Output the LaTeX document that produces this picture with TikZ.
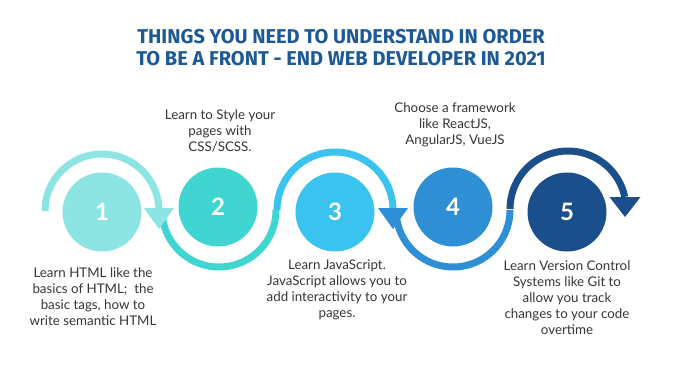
\documentclass[tikz,border=0pt]{standalone}
\usepackage{fontspec}
\usetikzlibrary{calc}
\setmainfont{Lato}
\newfontfamily\titlefont{Fira Sans}
\definecolor{cA}{HTML}{8DE5E3}
\definecolor{cB}{HTML}{41D5D1}
\definecolor{cC}{HTML}{3BC3EF}
\definecolor{cD}{HTML}{2F8FD5}
\definecolor{cE}{HTML}{1B4F8C}
\definecolor{titleblue}{HTML}{1D5A95}
\definecolor{txt}{HTML}{363636}
\tikzset{
  stepcircle/.style={circle, minimum size=79*0.75pt, inner sep=0pt, text=white, font=\fontsize{18}{20}\selectfont\bfseries},
  band/.style={line width=7*0.75pt},
  desc/.style={align=center, text=txt, font=\fontsize{10}{12}\selectfont, inner sep=0pt},
}
\begin{document}
\begin{tikzpicture}[x=0.75pt,y=-0.75pt]
\path[use as bounding box, fill=white] (0,0) rectangle (680,383);
% title
\node[text=titleblue, font=\titlefont\bfseries\fontsize{15}{16.5}\selectfont, align=center, inner sep=0pt] (title) at (341,48) {THINGS YOU NEED TO UNDERSTAND IN ORDER\\TO BE A FRONT - END WEB DEVELOPER IN 2021};
% arcs
\draw[band, cA] plot[domain=180:360, samples=80] ({102+57*cos(\x)},{211+57*sin(\x)});
\draw[band, cB] plot[domain=180:0, samples=80] ({219+57*cos(\x)},{210+57*sin(\x)});
\draw[band, cC] plot[domain=180:360, samples=80] ({335+58*cos(\x)},{210+58*sin(\x)});
\draw[band, cD] plot[domain=180:0, samples=80] ({453+57*cos(\x)},{210+57*sin(\x)});
\draw[band, cE] plot[domain=180:348, samples=80] ({568+58*cos(\x)},{209+58*sin(\x)});
% arrowheads
\coordinate (a1) at (159,208);
\coordinate (a3) at (393,208);
\coordinate (a5) at (625,197);
\fill[cA] ($(a1)+(-15,0)$) -- ($(a1)+(15,0)$) -- ($(a1)+(0,21)$) -- cycle;
\fill[cD] ($(a3)+(-15,0)$) -- ($(a3)+(15,0)$) -- ($(a3)+(0,21)$) -- cycle;
\fill[cE] ($(a5)+(-15.5,0)$) -- ($(a5)+(15.5,0)$) -- ($(a5)+(0,20)$) -- cycle;
% circles
\node[stepcircle, fill=cA] (s1) at (102,212) {1};
\node[stepcircle, fill=cB] (s2) at (218,207) {2};
\node[stepcircle, fill=cC] (s3) at (335,212) {3};
\node[stepcircle, fill=cD] (s4) at (453,207) {4};
\node[stepcircle, fill=cE] (s5) at (567,212) {5};
% descriptions
\node[desc] (d1) at (93,297) {Learn HTML like the\\basics of HTML;\ \ the\\basic tags, how to\\write semantic HTML};
\node[desc] (d2) at (220,131) {Learn to Style your\\pages with\\CSS/SCSS.};
\node[desc] (d3) at (337,289.5) {Learn JavaScript.\\JavaScript allows you to\\add interactivity to your\\pages.};
\node[desc] (d4) at (455,125) {Choose a framework\\like ReactJS,\\AngularJS, VueJS};
\node[desc] (d5) at (567,297.5) {Learn Version Control\\Systems like Git to\\allow you track\\changes to your code\\overtime};
\end{tikzpicture}
\end{document}
